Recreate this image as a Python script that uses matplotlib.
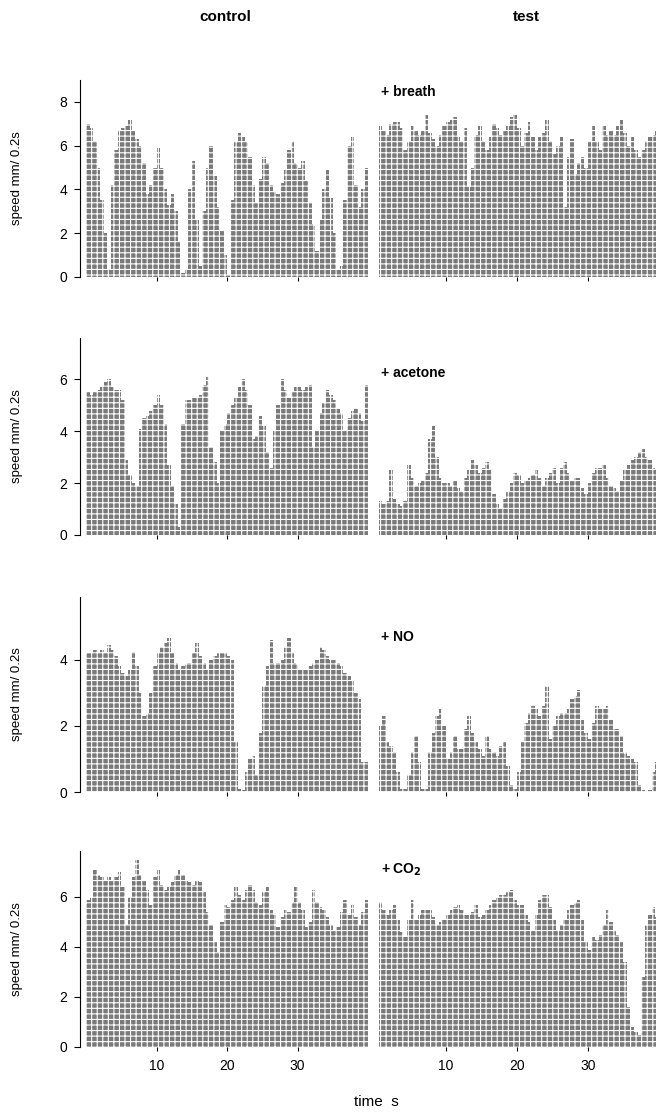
import numpy as np
import matplotlib
matplotlib.use('Agg')
import matplotlib.pyplot as plt

plt.rcParams['font.family'] = ['Liberation Sans', 'DejaVu Sans']
plt.rcParams['hatch.linewidth'] = 0.8

# ------------------------------------------------------------
# Data: speed (mm / 0.2 s) sampled every 0.5 s, read off the figure
# ------------------------------------------------------------
t_control = np.arange(0, 40, 0.5)        # 80 samples
t_test = np.arange(0.5, 40, 0.5)         # 79 samples

breath_control = [7.0, 6.8, 6.2, 5.0, 3.5, 2.0, 0.3, 4.2, 5.8, 6.7,
                  6.8, 6.9, 7.2, 6.7, 6.3, 6.0, 5.2, 3.8, 4.2, 5.0,
                  5.9, 5.0, 4.0, 3.3, 3.8, 3.0, 1.6, 0.2, 0.3, 4.0,
                  5.3, 2.6, 0.5, 3.0, 5.0, 6.0, 4.6, 3.2, 2.1, 1.0,
                  0.1, 3.5, 6.2, 6.6, 6.4, 6.2, 5.5, 4.2, 3.4, 4.5,
                  5.5, 5.2, 4.2, 3.9, 3.8, 4.3, 4.9, 5.8, 6.2, 5.2,
                  5.0, 5.3, 4.4, 3.4, 2.4, 1.2, 2.6, 4.0, 4.9, 3.6,
                  2.0, 0.3, 0.5, 3.5, 6.0, 6.4, 4.2, 3.2, 4.0, 5.0]
breath_test = [6.9, 6.7, 6.5, 7.0, 7.1, 7.1, 6.8, 5.8, 6.2, 6.9,
               6.7, 6.5, 6.7, 7.4, 6.6, 6.3, 6.0, 6.5, 6.9, 7.1,
               7.2, 7.3, 6.4, 6.2, 6.8, 4.1, 5.0, 6.5, 6.9, 6.2,
               5.8, 6.4, 7.0, 6.8, 6.5, 6.7, 6.9, 7.3, 7.4, 6.8,
               6.0, 6.6, 7.1, 6.4, 5.8, 6.4, 6.6, 7.2, 6.2, 5.6,
               6.0, 6.4, 3.2, 5.5, 6.3, 4.7, 5.2, 5.5, 5.0, 6.2,
               6.9, 6.2, 5.8, 6.9, 6.5, 6.7, 6.5, 6.9, 7.2, 6.6,
               6.0, 6.4, 5.8, 5.5, 5.8, 6.2, 6.4, 6.5, 6.7]

acetone_control = [5.5, 5.4, 5.5, 5.6, 5.7, 5.9, 6.0, 5.7, 5.6, 5.6,
                   5.2, 2.9, 2.3, 2.0, 1.9, 4.1, 4.5, 4.6, 4.8, 5.0,
                   5.4, 5.0, 4.3, 2.7, 1.9, 1.2, 0.3, 4.3, 5.2, 5.2,
                   5.3, 5.3, 5.4, 5.8, 6.1, 3.4, 2.8, 2.0, 4.0, 4.3,
                   4.7, 5.0, 5.3, 5.7, 6.0, 5.6, 5.0, 3.7, 3.8, 4.6,
                   4.2, 3.2, 2.6, 4.0, 5.0, 6.0, 5.6, 5.3, 5.5, 5.7,
                   5.7, 5.6, 5.7, 5.8, 3.4, 4.0, 4.7, 5.1, 5.6, 5.4,
                   5.2, 4.9, 4.7, 4.0, 4.5, 4.8, 4.9, 4.7, 4.4, 5.8]
acetone_test = [1.3, 1.2, 1.3, 2.5, 1.4, 1.2, 1.1, 1.3, 2.7, 2.2,
                1.9, 2.0, 2.1, 2.4, 3.7, 4.2, 3.0, 2.2, 2.0, 2.0,
                1.9, 2.1, 1.8, 1.7, 2.2, 2.5, 2.9, 2.7, 2.4, 2.6,
                2.8, 2.5, 1.6, 1.2, 1.0, 1.4, 1.7, 2.0, 2.4, 2.3,
                2.0, 2.1, 2.2, 2.3, 2.5, 2.2, 1.9, 2.2, 2.4, 2.6,
                2.0, 2.6, 2.8, 2.4, 2.1, 2.2, 2.2, 1.8, 1.6, 2.0,
                2.4, 2.6, 2.6, 2.7, 2.2, 1.9, 1.8, 1.7, 2.1, 2.5,
                2.7, 2.9, 3.0, 3.2, 3.3, 3.0, 2.9, 2.6, 2.5]

no_control = [4.2, 4.2, 4.3, 4.2, 4.3, 4.2, 4.45, 4.3, 4.1, 3.8,
              3.6, 3.5, 3.7, 4.25, 3.8, 3.0, 2.3, 2.4, 3.0, 3.8,
              4.2, 4.4, 4.5, 4.65, 4.2, 3.9, 3.7, 3.8, 3.9, 3.9,
              4.2, 4.5, 4.1, 3.9, 3.7, 4.0, 4.1, 4.2, 4.2, 4.25,
              4.1, 4.0, 1.5, 0.1, 0.05, 0.6, 1.0, 1.1, 0.5, 1.8,
              3.2, 3.8, 4.6, 3.9, 3.9, 4.0, 4.4, 4.65, 4.2, 3.9,
              3.7, 3.7, 3.7, 3.8, 3.9, 4.0, 4.4, 4.3, 4.1, 4.0,
              4.0, 3.9, 3.8, 3.6, 3.5, 3.4, 3.0, 2.8, 0.9, 0.9]
no_test = [2.0, 2.3, 1.5, 1.4, 1.2, 0.6, 0.1, 0.1, 0.5, 1.2,
           1.7, 0.9, 0.1, 0.1, 1.2, 1.8, 2.3, 2.5, 2.0, 1.0,
           1.2, 1.7, 1.3, 1.3, 1.9, 2.3, 1.8, 1.5, 1.3, 1.1,
           1.7, 1.3, 1.2, 1.1, 1.4, 1.5, 0.8, 0.2, 0.1, 0.6,
           1.5, 2.1, 2.4, 2.6, 2.5, 2.3, 2.6, 3.2, 1.6, 2.0,
           2.3, 2.4, 2.4, 2.5, 2.8, 2.9, 3.1, 2.2, 1.8, 1.6,
           2.1, 2.6, 2.5, 2.5, 2.6, 2.2, 1.9, 1.9, 1.7, 1.2,
           1.1, 1.0, 0.9, 0.2, 0.05, 0.0, 0.05, 0.6, 0.9]

co2_control = [5.9, 6.0, 7.1, 6.9, 6.8, 6.7, 6.8, 6.7, 6.8, 7.0,
               6.4, 4.9, 6.0, 6.8, 7.5, 6.9, 6.7, 6.3, 5.7, 6.8,
               7.1, 6.5, 6.3, 6.4, 6.6, 6.9, 7.1, 6.9, 6.7, 6.6,
               6.5, 6.7, 6.6, 6.2, 5.4, 4.9, 4.2, 3.8, 5.0, 5.7,
               5.6, 5.9, 6.4, 6.1, 5.9, 6.3, 6.5, 6.3, 5.8, 5.7,
               6.2, 6.4, 5.5, 5.3, 4.8, 5.2, 5.5, 5.4, 5.8, 6.4,
               5.8, 5.5, 4.8, 5.0, 6.3, 5.8, 5.6, 5.5, 5.2, 4.9,
               4.7, 4.8, 5.4, 5.9, 5.3, 5.7, 5.2, 4.9, 5.4, 5.9]
co2_test = [5.8, 5.5, 5.3, 5.5, 5.7, 5.1, 4.6, 4.4, 5.1, 5.9,
            5.1, 5.3, 5.5, 5.5, 5.5, 5.2, 4.9, 5.0, 5.1, 5.3,
            5.5, 5.6, 5.7, 5.5, 5.3, 5.3, 5.4, 5.7, 5.2, 5.3,
            5.5, 5.7, 5.9, 6.0, 6.1, 6.1, 6.2, 6.3, 5.9, 5.7,
            5.7, 5.3, 5.0, 4.7, 5.3, 5.9, 6.1, 6.1, 5.6, 5.1,
            4.7, 4.9, 5.1, 5.5, 5.7, 5.8, 5.9, 5.1, 4.2, 3.9,
            4.4, 4.3, 4.5, 4.9, 5.5, 5.0, 4.7, 4.5, 4.2, 3.4,
            1.6, 0.8, 0.6, 0.5, 2.8, 4.9, 5.3, 5.6, 5.2]

rows = [
    ('+ breath',  breath_control,  breath_test,  9.0,  [0, 2, 4, 6, 8]),
    ('+ acetone', acetone_control, acetone_test, 7.6,  [0, 2, 4, 6]),
    ('+ NO',      no_control,      no_test,      5.9,  [0, 2, 4]),
    (r'+ CO$_\mathbf{2}$', co2_control, co2_test, 7.84, [0, 2, 4, 6]),
]

# axes geometry in figure pixels (656 x 1114)
W, H = 656, 1114
row_px = [(80, 277), (338, 535), (597, 792), (851, 1047)]
label_y = [92, 373, 637, 870]

fig = plt.figure(figsize=(6.56, 11.14), dpi=100)

bar_kw = dict(width=0.5, align='edge', color='#7a7a7a', edgecolor='white',
              linewidth=0, hatch='+++')

for i, (label, ctrl, test, ytop, yt) in enumerate(rows):
    top, bot = row_px[i]
    b = 1 - bot / H
    h = (bot - top) / H

    axl = fig.add_axes([80 / W, b, 291 / W, h])
    axr = fig.add_axes([377 / W, b, 279 / W, h])

    axl.bar(t_control, ctrl, **bar_kw)
    axr.bar(t_test, test, **bar_kw)

    axl.set_xlim(-0.85, 40.4)
    axr.set_xlim(0.28, 39.58)
    for ax in (axl, axr):
        ax.set_ylim(0, ytop)
        ax.set_xticks([10, 20, 30])
        for s in ['top', 'right', 'bottom']:
            ax.spines[s].set_visible(False)
        ax.tick_params(axis='x', direction='out', length=3, width=0.8,
                       labelsize=10, pad=6)
        if i < 3:
            ax.tick_params(axis='x', labelbottom=False)

    axl.spines['left'].set_linewidth(0.8)
    axl.set_yticks(yt)
    axl.tick_params(axis='y', direction='out', length=4, width=0.8,
                    labelsize=10, pad=5)

    axr.spines['left'].set_visible(False)
    axr.set_yticks([])

    fig.text(17 / W, 1 - (top + bot) / 2 / H, 'speed mm/ 0.2s',
             rotation=90, ha='center', va='center', fontsize=9.5)
    fig.text(381 / W, 1 - label_y[i] / H, label, ha='left', va='center',
             fontsize=10, fontweight='bold')

fig.text(225 / W, 1 - 17 / H, 'control', ha='center', va='center',
         fontsize=11, fontweight='bold')
fig.text(526 / W, 1 - 17 / H, 'test', ha='center', va='center',
         fontsize=11, fontweight='bold')
fig.text(376 / W, 1 - 1102 / H, 'time  s', ha='center', va='center',
         fontsize=11)

fig.savefig('out.png', dpi=100)
